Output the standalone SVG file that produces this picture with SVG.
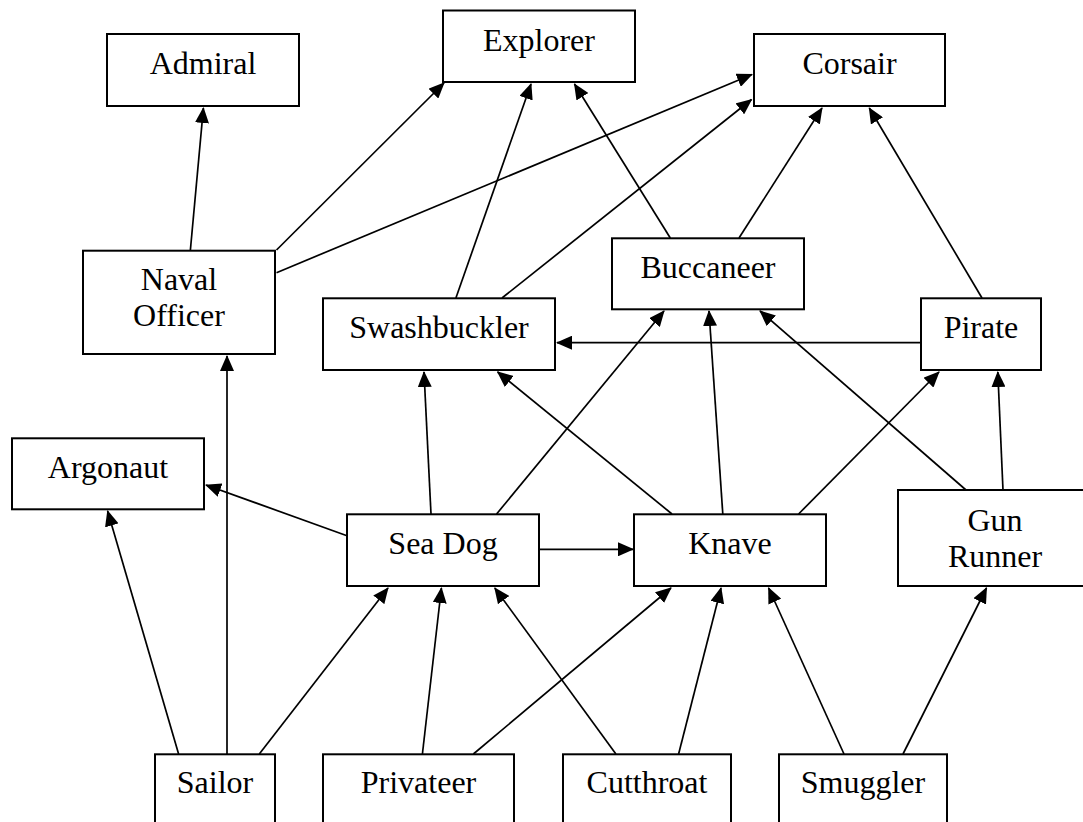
<svg xmlns="http://www.w3.org/2000/svg" width="1083" height="822" viewBox="0 0 1083 822">
<style>
.n{fill:#fff;stroke:#000;stroke-width:2}
.t{font-family:"Liberation Serif","Times New Roman",serif;font-size:32px;fill:#000;text-anchor:middle}
.e line{stroke:#000;stroke-width:1.7;marker-end:url(#ah)}
</style>
<defs>
<marker id="ah" markerUnits="userSpaceOnUse" markerWidth="16" markerHeight="14" viewBox="0 0 16 14" refX="15" refY="7" orient="auto">
<path d="M0,0 L16,7 L0,14 z" fill="#000"/>
</marker>
</defs>
<rect width="1083" height="822" fill="#fff"/>
<g class="e" id="connectors">
<line x1="190.3" y1="251" x2="203.4" y2="108"/>
<line x1="276.5" y1="250" x2="444" y2="83"/>
<line x1="276.5" y1="272.7" x2="752" y2="74.5"/>
<line x1="455.9" y1="298" x2="531" y2="84"/>
<line x1="502" y1="298" x2="751.5" y2="99.5"/>
<line x1="670.3" y1="238" x2="574.5" y2="84"/>
<line x1="739" y1="238" x2="822" y2="108"/>
<line x1="982" y1="298" x2="869.3" y2="108"/>
<line x1="921" y1="342.7" x2="557" y2="342.7"/>
<line x1="227" y1="754" x2="227" y2="356"/>
<line x1="178.6" y1="754" x2="107.6" y2="511"/>
<line x1="259.3" y1="754" x2="388" y2="588"/>
<line x1="422.4" y1="754" x2="441.4" y2="588"/>
<line x1="473.4" y1="754" x2="671" y2="588"/>
<line x1="615.9" y1="754" x2="494.8" y2="588"/>
<line x1="678.6" y1="754" x2="721" y2="588"/>
<line x1="844" y1="754" x2="768.6" y2="588"/>
<line x1="903" y1="754" x2="986.5" y2="588"/>
<line x1="347" y1="535.7" x2="206" y2="485"/>
<line x1="431" y1="514" x2="424" y2="372"/>
<line x1="496.6" y1="514" x2="664" y2="311"/>
<line x1="539" y1="549.3" x2="633" y2="549.3"/>
<line x1="672" y1="514" x2="497.6" y2="372"/>
<line x1="722.8" y1="514" x2="709" y2="311"/>
<line x1="798.6" y1="514" x2="939" y2="372"/>
<line x1="966" y1="490" x2="760" y2="311"/>
<line x1="1003" y1="490" x2="997.8" y2="372"/>
</g>
<g id="admiral"><rect class="n" x="107" y="34" width="192" height="72"/><text class="t" x="203" y="74">Admiral</text></g>
<g id="explorer"><rect class="n" x="443" y="10.5" width="192" height="71.5"/><text class="t" x="539" y="50.5">Explorer</text></g>
<g id="corsair"><rect class="n" x="754" y="34" width="191" height="72"/><text class="t" x="849.5" y="74">Corsair</text></g>
<g id="naval-officer"><rect class="n" x="83" y="250.7" width="192" height="103.3"/><text class="t" x="179" y="289.5">Naval</text><text class="t" x="179" y="326">Officer</text></g>
<g id="buccaneer"><rect class="n" x="612" y="238.3" width="192" height="71"/><text class="t" x="708" y="278">Buccaneer</text></g>
<g id="swashbuckler"><rect class="n" x="323" y="298.3" width="232" height="71.7"/><text class="t" x="439" y="338">Swashbuckler</text></g>
<g id="pirate"><rect class="n" x="921" y="298.3" width="120" height="71.7"/><text class="t" x="981" y="338">Pirate</text></g>
<g id="argonaut"><rect class="n" x="12" y="438.3" width="192" height="71"/><text class="t" x="108" y="478">Argonaut</text></g>
<g id="sea-dog"><rect class="n" x="347" y="514.3" width="192" height="71.7"/><text class="t" x="443" y="553.5">Sea Dog</text></g>
<g id="knave"><rect class="n" x="634" y="514.3" width="192" height="71.7"/><text class="t" x="730" y="553.5">Knave</text></g>
<g id="gun-runner"><rect class="n" x="898" y="490" width="194" height="96"/><text class="t" x="995" y="530.7">Gun</text><text class="t" x="995" y="566.7">Runner</text></g>
<g id="sailor"><rect class="n" x="155" y="754.3" width="120" height="80"/><text class="t" x="215" y="793.3">Sailor</text></g>
<g id="privateer"><rect class="n" x="323" y="754.3" width="191" height="80"/><text class="t" x="418.5" y="793.3">Privateer</text></g>
<g id="cutthroat"><rect class="n" x="563" y="754.3" width="168" height="80"/><text class="t" x="647" y="793.3">Cutthroat</text></g>
<g id="smuggler"><rect class="n" x="779" y="754.3" width="168" height="80"/><text class="t" x="863" y="793.3">Smuggler</text></g>
</svg>
